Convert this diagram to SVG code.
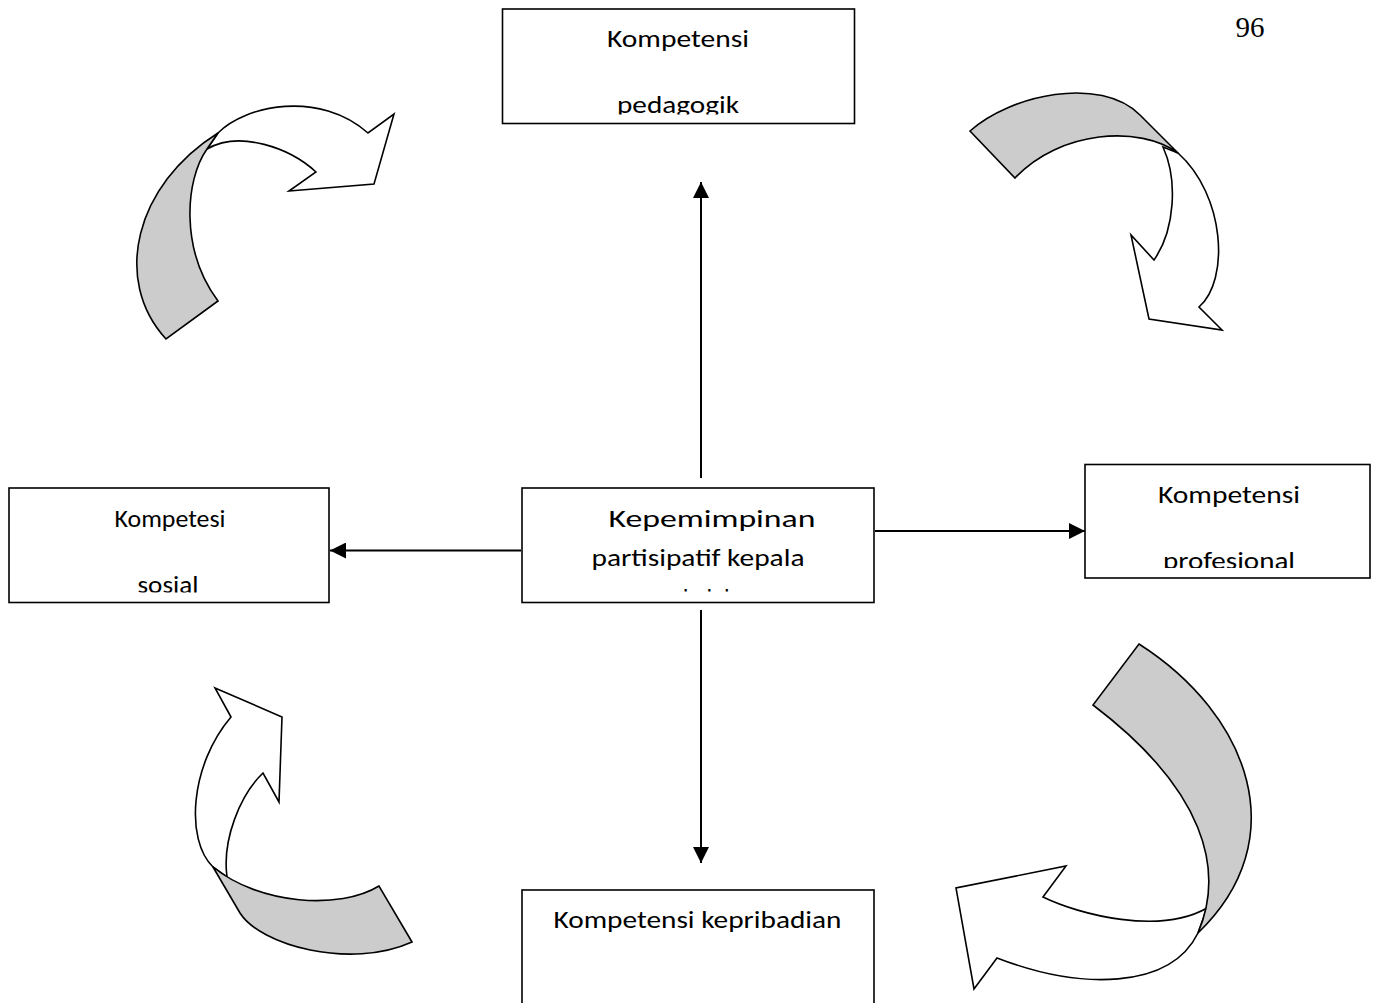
<svg xmlns="http://www.w3.org/2000/svg" width="1379" height="1003" viewBox="0 0 1379 1003">
<style>
.box{fill:#fff;stroke:#000;stroke-width:1.6}
.t{font-family:Carlito,Lato,"Liberation Sans",sans-serif;font-size:24px;fill:#000;text-anchor:middle}
.c{stroke:#000;stroke-width:2;fill:none}
.g{fill:#cccccc;stroke:#000;stroke-width:1.6;stroke-linejoin:miter}
.w{fill:#fff;stroke:#000;stroke-width:1.6;stroke-linejoin:miter}
</style>
<defs>
<marker id="ah" viewBox="0 0 16 16" refX="16" refY="8" markerWidth="16" markerHeight="16" orient="auto" markerUnits="userSpaceOnUse"><path d="M0,0 L16,8 L0,16 Z" fill="#000"/></marker>
<clipPath id="cpTop"><rect x="503" y="10" width="351" height="104.5"/></clipPath>
<clipPath id="cpSos"><rect x="10" y="489" width="318" height="103.5"/></clipPath>
<clipPath id="cpCen"><rect x="523" y="489" width="350" height="102.5"/></clipPath>
<clipPath id="cpPro"><rect x="1086" y="466" width="283" height="102"/></clipPath>
</defs>
<rect width="1379" height="1003" fill="#fff"/>
<text x="1250" y="37" font-family="'Liberation Serif',serif" font-size="29" text-anchor="middle">96</text>

<g id="connectors">
<line class="c" x1="701" y1="478" x2="701" y2="182" marker-end="url(#ah)"/>
<line class="c" x1="701" y1="610" x2="701" y2="863" marker-end="url(#ah)"/>
<line class="c" x1="521" y1="550.5" x2="330" y2="550.5" marker-end="url(#ah)"/>
<line class="c" x1="875" y1="531" x2="1085" y2="531" marker-end="url(#ah)"/>
</g>

<g id="node-pedagogik">
<rect class="box" x="502.5" y="9" width="352" height="114.5"/>
<g clip-path="url(#cpTop)">
<text class="t" x="678" y="47" textLength="142" lengthAdjust="spacingAndGlyphs">Kompetensi</text>
<text class="t" x="678" y="113" textLength="122" lengthAdjust="spacingAndGlyphs">pedagogik</text>
</g>
</g>

<g id="node-sosial">
<rect class="box" x="9" y="488" width="320" height="114.5"/>
<g clip-path="url(#cpSos)">
<text class="t" x="170" y="527" textLength="111" lengthAdjust="spacingAndGlyphs">Kompetesi</text>
<text class="t" x="168" y="593" textLength="61" lengthAdjust="spacingAndGlyphs">sosial</text>
</g>
</g>

<g id="node-center">
<rect class="box" x="522" y="488" width="352" height="114.5"/>
<g clip-path="url(#cpCen)">
<text class="t" x="712" y="527" textLength="207" lengthAdjust="spacingAndGlyphs">Kepemimpinan</text>
<text class="t" x="698" y="566" textLength="213" lengthAdjust="spacingAndGlyphs">partisipatif kepala</text>
<text class="t" x="699" y="606" textLength="76" lengthAdjust="spacingAndGlyphs">sekolah</text>
</g>
</g>

<g id="node-profesional">
<rect class="box" x="1085" y="464.5" width="285" height="113.5"/>
<g clip-path="url(#cpPro)">
<text class="t" x="1229" y="503" textLength="142" lengthAdjust="spacingAndGlyphs">Kompetensi</text>
<text class="t" x="1229" y="569" textLength="132" lengthAdjust="spacingAndGlyphs">profesional</text>
</g>
</g>

<g id="node-kepribadian">
<rect class="box" x="522" y="890" width="352" height="120"/>
<text class="t" x="697.5" y="928" textLength="288" lengthAdjust="spacingAndGlyphs">Kompetensi kepribadian</text>
</g>

<g id="cycle-top-left">
<path class="w" d="M218,133 C245,105 320,90 368,133 L394,114 L374,184 L289,191 L316,172 C290,148 240,130 207,149 Z"/>
<path class="g" d="M166,339 C112,280 135,185 218,133 L207,149 C185,180 180,250 218,301 Z"/>
</g>

<g id="cycle-top-right">
<path class="w" d="M1178,153 C1225,195 1230,280 1199,307 L1222,330 L1149,319 L1131,235 L1154,260 C1175,230 1178,180 1163,147 Z"/>
<path class="g" d="M970,131 C1010,95 1100,75 1140,115 L1178,153 C1140,125 1060,130 1015,178 Z"/>
</g>

<g id="cycle-bottom-left">
<path class="w" d="M215,688 L282,717 L279,802 L263,773 C240,795 222,840 227,877 L213,867 C185,840 190,765 231,717 Z"/>
<path class="g" d="M213,867 L240,913 C260,945 350,970 412,942 L379,886 C340,910 260,905 213,867 Z"/>
</g>

<g id="cycle-bottom-right">
<path class="w" d="M1198,933 C1170,990 1080,990 997,958 L974,989 L956,888 L1066,866 L1043,897 C1080,915 1160,935 1207,908 Z"/>
<path class="g" d="M1139,644 C1250,715 1295,840 1198,933 C1225,870 1205,790 1093,705 Z"/>
</g>
</svg>
